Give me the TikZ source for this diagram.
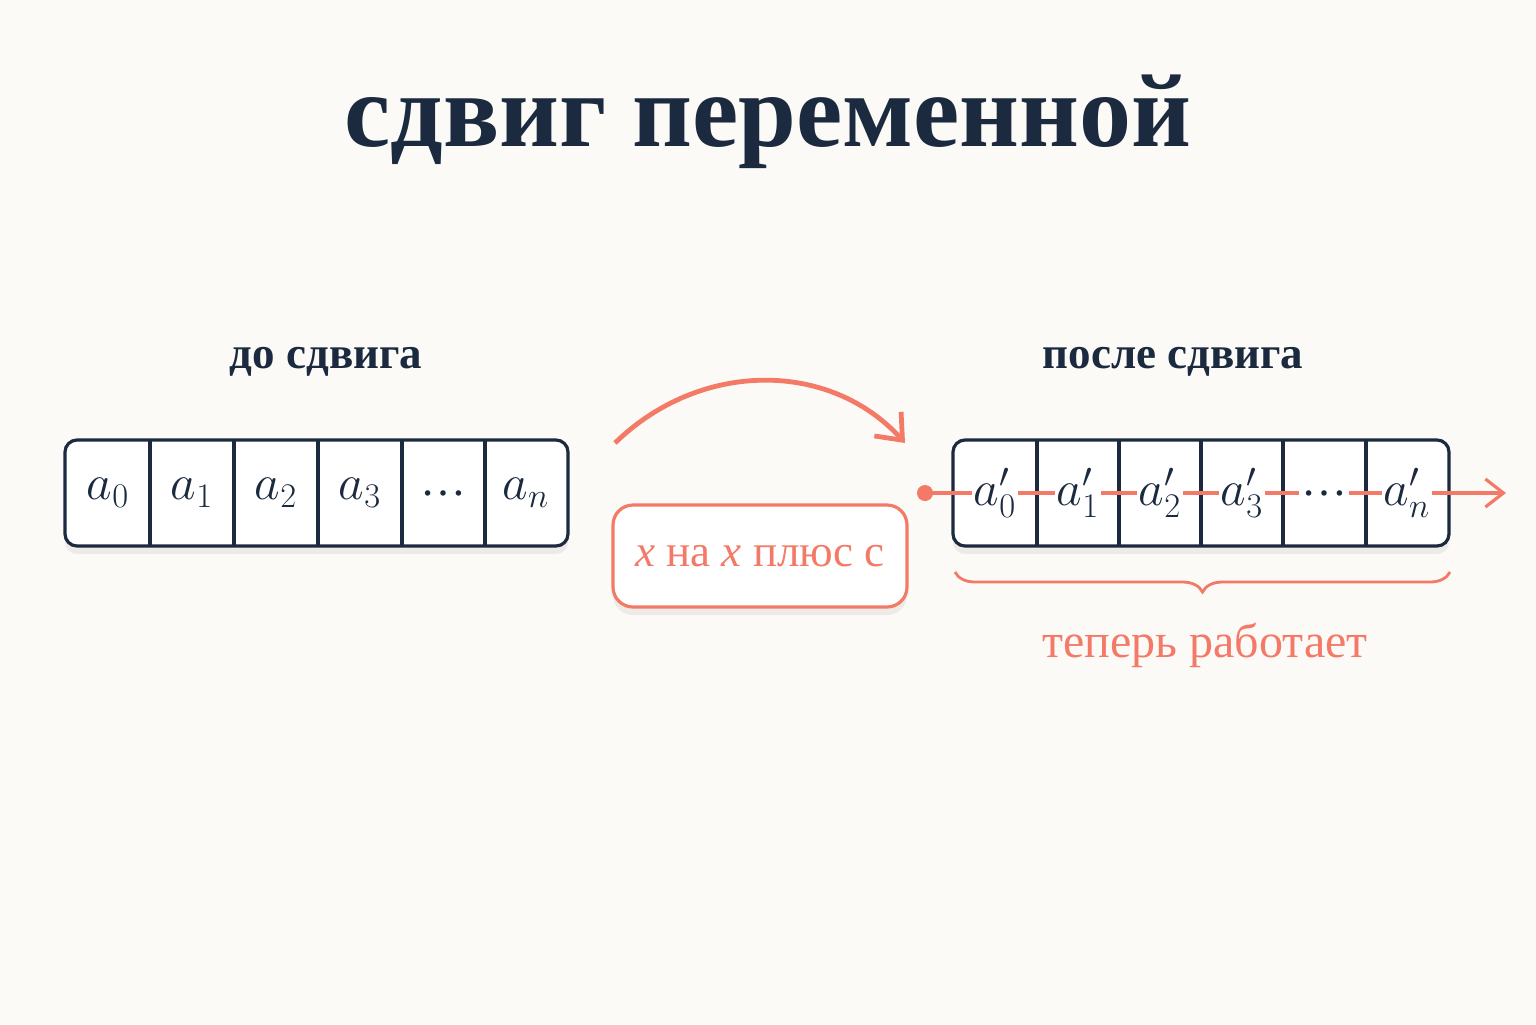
\documentclass[tikz,border=0pt]{standalone}
\usepackage{fontspec}
\setmainfont{Liberation Serif}
\usetikzlibrary{shadows,decorations.pathreplacing,arrows.meta}
\definecolor{navy}{HTML}{1B2A3F}
\definecolor{coral}{HTML}{F47A68}
\definecolor{bg}{HTML}{FCFAF7}
\begin{document}
\begin{tikzpicture}[x=0.5pt,y=-0.5pt,
  arr/.style={draw=navy,line width=1.6pt,rounded corners=6pt,fill=white,
    drop shadow={opacity=0.12,shadow xshift=0pt,shadow yshift=-4pt}},
  cell/.style={text=navy,font=\fontsize{23}{27}\selectfont},
  rcell/.style={text=navy,font=\fontsize{23}{27}\selectfont,fill=white,inner sep=1pt},
  hdr/.style={text=navy,font=\fontsize{22.5}{26}\selectfont\bfseries},
  red/.style={draw=coral,line width=1.6pt}]
\fill[bg] (0,0) rectangle (1536,1024);
\useasboundingbox (0,0) rectangle (1536,1024);
\node[text=navy,font=\fontsize{52}{58}\selectfont\bfseries] (title) at (768,122) {сдвиг переменной};
\node[hdr] (hl) at (326,362) {до сдвига};
\node[hdr] (hr) at (1173,362) {после сдвига};
% left array
\path[arr] (65,440) rectangle (568,546);
\foreach \x in {150,234,318,402,485}{\draw[navy,line width=1.6pt] (\x,440) -- (\x,546);}
\node[cell] (l0) at (108,493) {$a_0$};
\node[cell] (l1) at (192,493) {$a_1$};
\node[cell] (l2) at (276,493) {$a_2$};
\node[cell] (l3) at (360,493) {$a_3$};
\node[cell] (l4) at (443,493) {\ldots};
\node[cell] (l5) at (526,493) {$a_n$};
% right array
\path[arr] (953,440) rectangle (1449,546);
\foreach \x in {1037,1119,1201,1283,1366}{\draw[navy,line width=1.6pt] (\x,440) -- (\x,546);}
\coordinate (dot) at (925,493);
\coordinate (tip) at (1506,493);
\draw[red,-{Straight Barb[length=9pt,width=14pt]}] (dot) -- (tip);
\fill[coral] (dot) circle (4pt);
\node[rcell] (r0) at (995,493) {$a_0'$};
\node[rcell] (r1) at (1078,493) {$a_1'$};
\node[rcell] (r2) at (1160,493) {$a_2'$};
\node[rcell] (r3) at (1242,493) {$a_3'$};
\node[rcell] (r4) at (1324,493) {\ldots};
\node[rcell] (r5) at (1407,493) {$a_n'$};
% arc arrow
\coordinate (as) at (615,443);
\coordinate (ae) at (905,443);
\draw[red,line width=2.4pt,-{Straight Barb[length=11pt,width=18pt]}] (as) .. controls (700,360) and (830,360) .. (ae);
% red box
\node[draw=coral,line width=1.6pt,rounded corners=10pt,fill=white,minimum width=147pt,minimum height=51pt,
  drop shadow={opacity=0.12,shadow xshift=0pt,shadow yshift=-4pt},
  text=coral,font=\fontsize{22.5}{26}\selectfont] (rule) at (760,556) {\textit{x} на \textit{x} плюс c};
% brace
\draw[red,line width=1.4pt,decorate,decoration={brace,mirror,amplitude=10pt}] (955,572) -- (1450,572);
\node[text=coral,font=\fontsize{24}{28}\selectfont] (lbl) at (1205,645) {теперь работает};
\end{tikzpicture}
\end{document}
